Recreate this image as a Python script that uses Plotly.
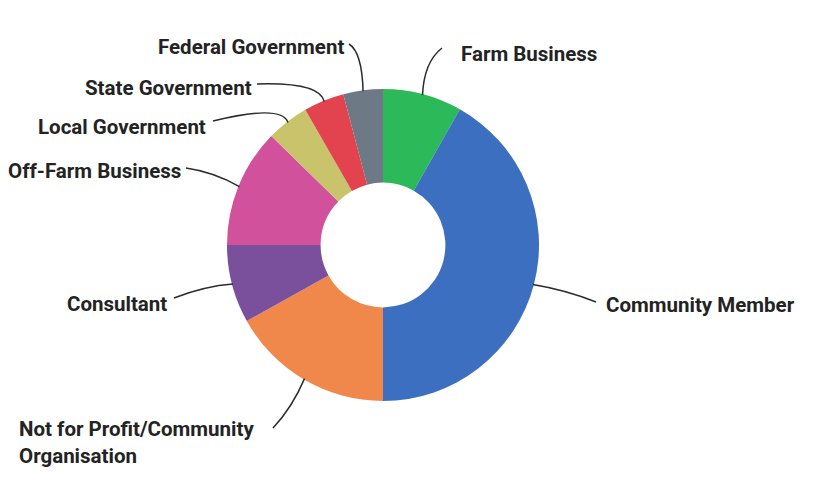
import math
import plotly.graph_objects as go

# Share of respondents by sector (percent), clockwise from 12 o'clock
categories = [
    "Farm Business",
    "Community Member",
    "Not for Profit/Community Organisation",
    "Consultant",
    "Off-Farm Business",
    "Local Government",
    "State Government",
    "Federal Government",
]
shares = [8.2, 41.8, 16.9, 8.1, 12.3, 4.4, 4.2, 4.1]
colors = ["#2cb95a", "#3d6fc0", "#f0884b", "#7a509d", "#d2519c",
          "#c9c46c", "#e2434f", "#6d7a85"]

W, H = 820, 502
CX, CY, R = 383, 245, 156  # donut centre and outer radius in pixels

def px(x):
    return x / W

def py(y):
    return 1 - y / H

# label text: (display text, x, y, xanchor), leader end point, bend point
label_layout = {
    "Farm Business": ("Farm Business", 459, 54, "left", (442, 48), (424, 62)),
    "Community Member": ("Community Member", 604, 305, "left", (596, 302), (566, 290)),
    "Not for Profit/Community Organisation": (
        "Not for Profit/Community<br>Organisation", 17, 442, "left", (273, 428), (292, 408)),
    "Consultant": ("Consultant", 169, 304, "right", (174, 298), (205, 286)),
    "Off-Farm Business": ("Off-Farm Business", 183, 171, "right", (186, 168), (214, 172)),
    "Local Government": ("Local Government", 208, 127, "right", (213, 121), (282, 104)),
    "State Government": ("State Government", 254, 88, "right", (257, 84), (320, 82)),
    "Federal Government": ("Federal Government", 346, 47, "right", (349, 44), (362, 52)),
}

fig = go.Figure(
    go.Pie(
        labels=categories,
        values=shares,
        sort=False,
        direction="clockwise",
        rotation=0,
        hole=0.40,
        marker=dict(colors=colors, line=dict(width=0)),
        textinfo="none",
        hoverinfo="label+percent",
        showlegend=False,
        domain=dict(x=[px(CX - R), px(CX + R)], y=[py(CY + R), py(CY - R)]),
    )
)

total = sum(shares)
cum = 0.0
annotations = []
shapes = []
font = dict(family="Roboto", size=20.5, color="#232323", weight="bold")
for name, val in zip(categories, shares):
    mid = (cum + val / 2) / total * 2 * math.pi
    cum += val
    sx = CX + (R - 1) * math.sin(mid)
    sy = CY - (R - 1) * math.cos(mid)
    text, tx, ty, anchor, (ex, ey), (bx, by) = label_layout[name]
    shapes.append(dict(
        type="path",
        xref="paper", yref="paper",
        path=f"M {px(sx)},{py(sy)} Q {px(bx)},{py(by)} {px(ex)},{py(ey)}",
        line=dict(color="#2b2b2b", width=1.5),
    ))
    annotations.append(dict(
        text=text, x=px(tx), y=py(ty), xref="paper", yref="paper",
        xanchor=anchor, yanchor="middle", align="left",
        showarrow=False, font=font,
    ))

fig.update_layout(
    width=W, height=H,
    margin=dict(l=0, r=0, t=0, b=0),
    paper_bgcolor="white",
    plot_bgcolor="white",
    annotations=annotations,
    shapes=shapes,
)

fig.write_html("out.html")
